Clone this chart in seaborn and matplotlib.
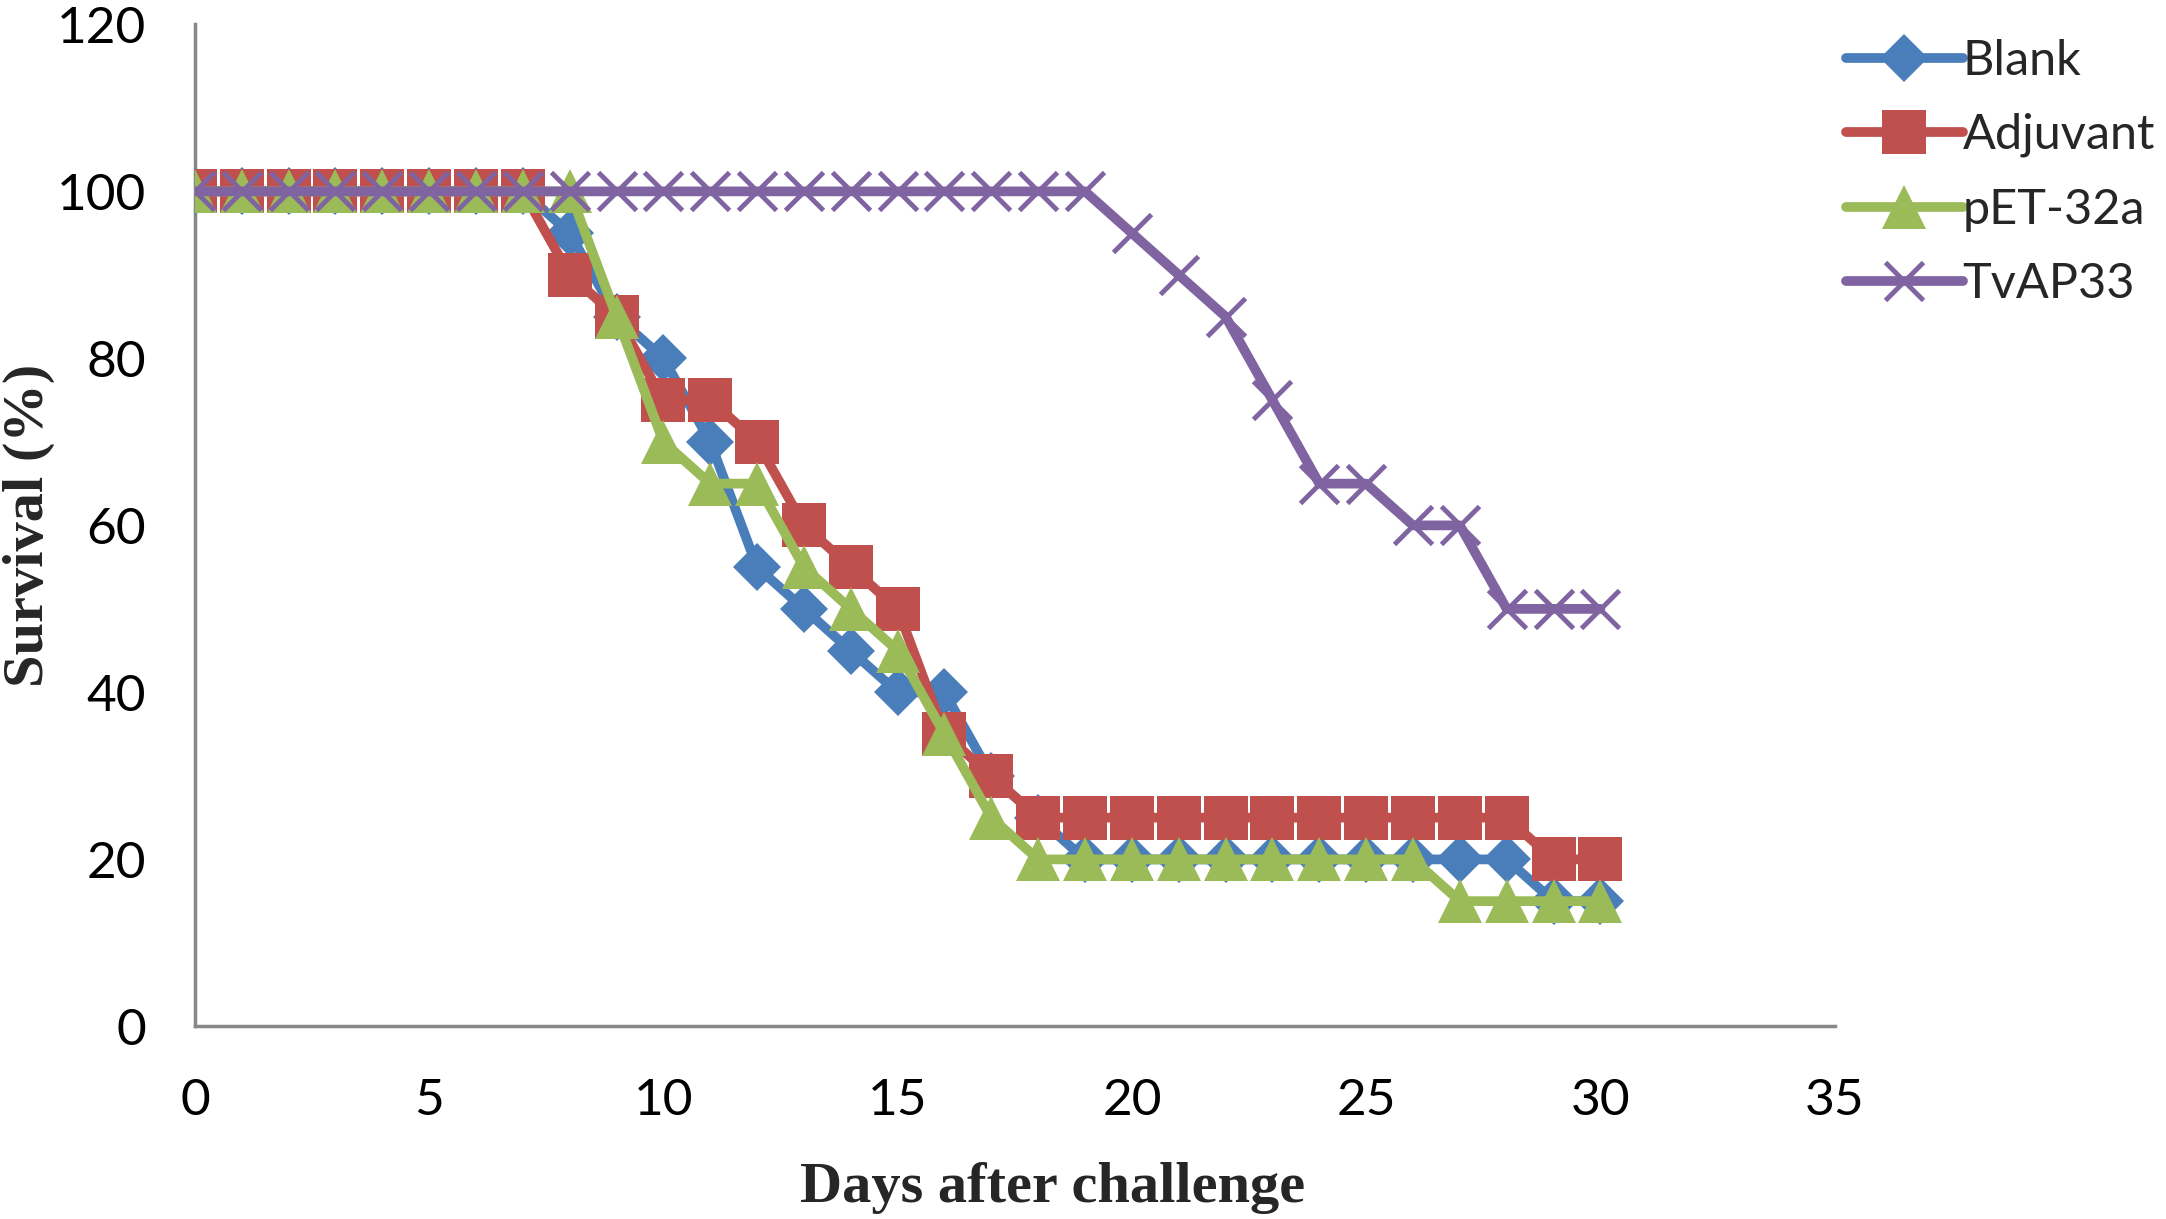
import matplotlib
matplotlib.use("Agg")
import matplotlib.pyplot as plt
import seaborn as sns
import pandas as pd

days = list(range(0, 31))
blank = [100, 100, 100, 100, 100, 100, 100, 100, 95, 85, 80, 70, 55, 50, 45, 40,
         40, 30, 25, 20, 20, 20, 20, 20, 20, 20, 20, 20, 20, 15, 15]
adjuvant = [100, 100, 100, 100, 100, 100, 100, 100, 90, 85, 75, 75, 70, 60, 55, 50,
            35, 30, 25, 25, 25, 25, 25, 25, 25, 25, 25, 25, 25, 20, 20]
pet32a = [100, 100, 100, 100, 100, 100, 100, 100, 100, 85, 70, 65, 65, 55, 50, 45,
          35, 25, 20, 20, 20, 20, 20, 20, 20, 20, 20, 15, 15, 15, 15]
tvap33 = [100, 100, 100, 100, 100, 100, 100, 100, 100, 100, 100, 100, 100, 100, 100, 100,
          100, 100, 100, 100, 95, 90, 85, 75, 65, 65, 60, 60, 50, 50, 50]
groups = ["Blank", "Adjuvant", "pET-32a", "TvAP33"]
series = [blank, adjuvant, pet32a, tvap33]
x_ticks = [0, 5, 10, 15, 20, 25, 30, 35]
y_ticks = [0, 20, 40, 60, 80, 100, 120]

colors = ["#4A7EBB", "#C0504D", "#9BBB59", "#8064A2"]
markers = ["D", "s", "^", "x"]
msizes = [24, 31, 31, 27]

sns.set_style("white")
plt.rcParams["font.family"] = ["Lato", "DejaVu Sans"]

fig = plt.figure(figsize=(21.66, 12.19), dpi=100)
ax = fig.add_axes([0.090, 0.158, 0.757, 0.822])

for g, vals, c, m, ms in zip(groups, series, colors, markers, msizes):
    df = pd.DataFrame({"day": days, "survival": vals})
    kw = dict(markeredgecolor=c, markerfacecolor=c)
    if m == "x":
        kw["markeredgewidth"] = 3.5
    else:
        kw["markeredgewidth"] = 0
    sns.lineplot(data=df, x="day", y="survival", ax=ax, color=c, marker=m,
                 markersize=ms, linewidth=7, label=g, solid_capstyle="round", **kw)

ax.set_xlim(0, 35)
ax.set_ylim(0, 120)
ax.set_xticks(x_ticks)
ax.set_yticks(y_ticks)
for s in ["top", "right"]:
    ax.spines[s].set_visible(False)
for s in ["left", "bottom"]:
    ax.spines[s].set_color("#878787")
    ax.spines[s].set_linewidth(2.5)
    ax.spines[s].set_zorder(0)
ax.tick_params(axis="both", direction="out", length=11, width=2.5, color="#878787",
               labelsize=37, labelcolor="black")
ax.tick_params(axis="x", pad=26)
ax.tick_params(axis="y", pad=24)

ax.set_xlabel("Days after challenge", fontsize=42, fontweight="bold",
              family=["Liberation Serif", "DejaVu Serif"])
ax.xaxis.set_label_coords(0.523, -0.161)
ax.xaxis.label.set_va("center")
ax.xaxis.label.set_ha("center")
ax.set_ylabel("Survival (%)", fontsize=42, fontweight="bold",
              family=["Liberation Serif", "DejaVu Serif"])
ax.yaxis.set_label_coords(-0.1010, 0.5)
ax.yaxis.label.set_va("center")
ax.yaxis.label.set_ha("center")

leg = ax.legend(loc="upper left", bbox_to_anchor=(0.995, 1.005), frameon=False,
                fontsize=35, handlelength=2.4, handletextpad=0.0, labelspacing=0.62,
                borderaxespad=0.0)

fig.savefig("out.png", dpi=100)
